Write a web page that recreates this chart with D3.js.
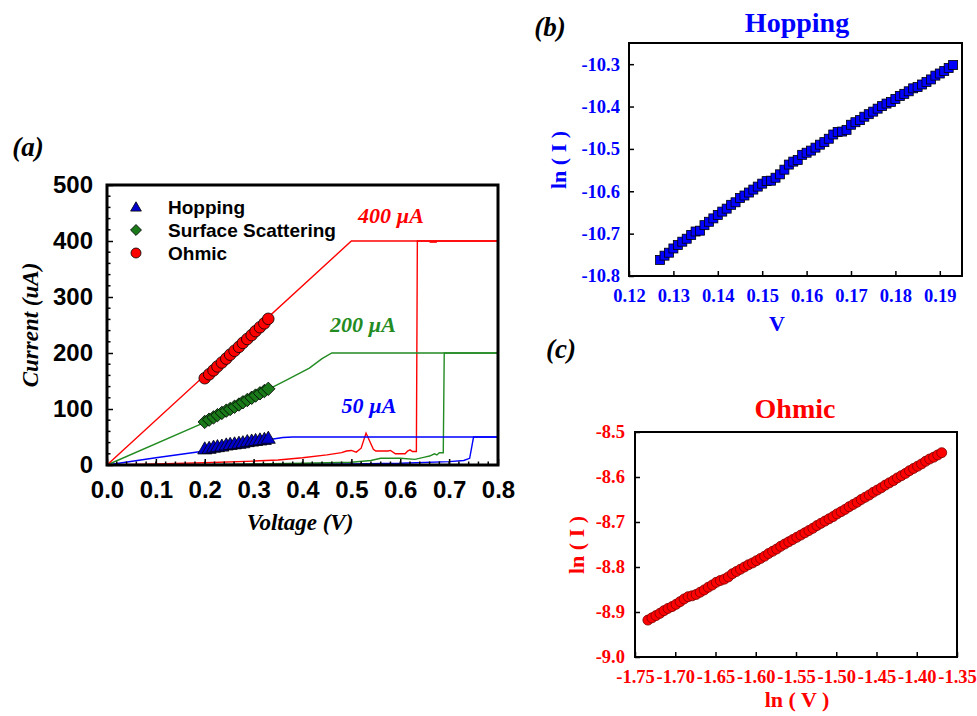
<!DOCTYPE html>
<html>
<head>
<meta charset="utf-8">
<script src="https://cdn.jsdelivr.net/npm/d3@7"></script>
<style>
  body { margin: 0; background: #fff; }
  svg { display: block; }
  .serif { font-family: "Liberation Serif", "Times New Roman", serif; font-weight: bold; }
  .sans { font-family: "Liberation Sans", Arial, sans-serif; font-weight: bold; }
</style>
</head>
<body>
<svg id="chart" width="977" height="716"></svg>
<script>
// ---------- Panel (a): I-V sweeps with compliance currents ----------
const ivTicksX = [0, 0.1, 0.2, 0.3, 0.4, 0.5, 0.6, 0.7, 0.8];
const ivTicksY = [0, 100, 200, 300, 400, 500];

// compliance curves [V, uA]
const set400 = [[0, 0], [0.50, 400], [0.80, 400]];
const reset400 = [[0, 0], [0.10, 2], [0.20, 4], [0.30, 7], [0.35, 9], [0.40, 13], [0.45, 18], [0.48, 22],
  [0.49, 25], [0.50, 26], [0.51, 23], [0.52, 30], [0.53, 57], [0.545, 28], [0.55, 25], [0.575, 25],
  [0.58, 26], [0.59, 20], [0.61, 20], [0.615, 25], [0.62, 27], [0.625, 24], [0.633, 24], [0.635, 400], [0.80, 400]];
const blip400 = [[0.66, 398], [0.675, 398]];
const set200 = [[0, 0], [0.20, 76], [0.33, 135], [0.37, 153], [0.414, 173], [0.44, 190], [0.46, 200], [0.80, 200]];
const reset200 = [[0, 0], [0.20, 1], [0.40, 3], [0.50, 5], [0.54, 8], [0.56, 12], [0.60, 12], [0.63, 10],
  [0.65, 14], [0.66, 16], [0.67, 20], [0.675, 18], [0.68, 22], [0.688, 22], [0.69, 200], [0.80, 200]];
const set50 = [[0, 0], [0.10, 13], [0.20, 25], [0.33, 45], [0.36, 49], [0.38, 50], [0.80, 50]];
const reset50 = [[0, 0], [0.30, 1], [0.50, 2], [0.60, 3], [0.70, 6], [0.73, 8], [0.742, 12], [0.75, 50], [0.80, 50]];

// fitted regions (same voltages for the three mechanisms)
const fitV = [0.200, 0.209, 0.218, 0.226, 0.235, 0.244, 0.252, 0.261, 0.270, 0.278, 0.287, 0.296, 0.304, 0.313, 0.322, 0.330];
const ohmicI = [155, 162, 169, 176, 183, 190, 197, 204, 211, 218, 225, 232, 239, 246, 253, 261];
const surfaceI = [77, 81, 85, 89, 93, 97, 100, 104, 108, 112, 116, 120, 124, 128, 132, 136];
const hoppingI = [27, 28, 30, 31, 32, 34, 35, 36, 37, 38, 40, 41, 42, 43, 44, 46];

const legendNames = ['Hopping', 'Surface Scattering', 'Ohmic'];

// ---------- Panel (b): Hopping, ln(I) vs V ----------
const hopTicksX = [0.12, 0.13, 0.14, 0.15, 0.16, 0.17, 0.18, 0.19];
const hopTicksY = [-10.8, -10.7, -10.6, -10.5, -10.4, -10.3];
const hopV = [0.127, 0.128, 0.129, 0.130, 0.131, 0.132, 0.133, 0.134, 0.135, 0.136, 0.137, 0.138, 0.139, 0.140,
  0.141, 0.142, 0.143, 0.144, 0.145, 0.146, 0.147, 0.148, 0.149, 0.150, 0.151, 0.152, 0.153, 0.154, 0.155,
  0.156, 0.157, 0.158, 0.159, 0.160, 0.161, 0.162, 0.163, 0.164, 0.165, 0.166, 0.167, 0.168, 0.169, 0.170,
  0.171, 0.172, 0.173, 0.174, 0.175, 0.176, 0.177, 0.178, 0.179, 0.180, 0.181, 0.182, 0.183, 0.184, 0.185,
  0.186, 0.187, 0.188, 0.189, 0.190, 0.191, 0.192, 0.193];
const hopLnI = [-10.762, -10.752, -10.745, -10.735, -10.727, -10.719, -10.712, -10.703, -10.695, -10.693,
  -10.680, -10.672, -10.664, -10.656, -10.648, -10.641, -10.632, -10.626, -10.616, -10.610, -10.603, -10.596,
  -10.589, -10.582, -10.576, -10.575, -10.568, -10.560, -10.549, -10.537, -10.530, -10.526, -10.514, -10.509,
  -10.504, -10.497, -10.490, -10.484, -10.476, -10.466, -10.460, -10.459, -10.455, -10.443, -10.437, -10.432,
  -10.424, -10.418, -10.412, -10.405, -10.399, -10.393, -10.389, -10.382, -10.375, -10.370, -10.364, -10.357,
  -10.354, -10.348, -10.342, -10.336, -10.327, -10.322, -10.316, -10.309, -10.302];

// ---------- Panel (c): Ohmic, ln(I) vs ln(V) ----------
const ohmTicksX = [-1.75, -1.70, -1.65, -1.60, -1.55, -1.50, -1.45, -1.40, -1.35];
const ohmTicksY = [-9.0, -8.9, -8.8, -8.7, -8.6, -8.5];
const ohmLnV = [-1.734, -1.729, -1.724, -1.719, -1.714, -1.709, -1.704, -1.699, -1.694, -1.689, -1.684, -1.679,
  -1.674, -1.669, -1.664, -1.659, -1.654, -1.649, -1.644, -1.639, -1.634, -1.629, -1.624, -1.619, -1.614,
  -1.609, -1.604, -1.599, -1.594, -1.589, -1.584, -1.579, -1.574, -1.569, -1.564, -1.559, -1.554, -1.549,
  -1.544, -1.539, -1.534, -1.529, -1.524, -1.519, -1.514, -1.509, -1.504, -1.499, -1.494, -1.489, -1.484,
  -1.479, -1.474, -1.469, -1.464, -1.459, -1.454, -1.449, -1.444, -1.439, -1.434, -1.429, -1.424, -1.419,
  -1.414, -1.409, -1.404, -1.399, -1.394, -1.389, -1.384, -1.379, -1.374, -1.369];
const ohmLnI = [-8.918, -8.913, -8.908, -8.903, -8.897, -8.892, -8.888, -8.883, -8.877, -8.871, -8.866, -8.864,
  -8.861, -8.856, -8.851, -8.845, -8.840, -8.834, -8.830, -8.827, -8.822, -8.815, -8.810, -8.805, -8.800,
  -8.795, -8.791, -8.786, -8.781, -8.776, -8.770, -8.765, -8.760, -8.754, -8.749, -8.744, -8.739, -8.734,
  -8.729, -8.724, -8.719, -8.714, -8.708, -8.703, -8.698, -8.693, -8.688, -8.682, -8.677, -8.672, -8.666,
  -8.661, -8.656, -8.650, -8.645, -8.640, -8.634, -8.629, -8.624, -8.618, -8.613, -8.608, -8.602, -8.597,
  -8.592, -8.586, -8.581, -8.576, -8.571, -8.565, -8.560, -8.556, -8.551, -8.546];

const RED = '#ff0000', GREEN = '#228b22', BLUE = '#0000ff';
const svg = d3.select('#chart');

// Draws a boxed frame with inward ticks
function drawFrame(x, y, opt) {
  const [x0, x1] = x.range();
  const [y0, y1] = y.range(); // y0 = bottom
  const g = svg.append('g');

  const xAxis = g.append('g')
    .attr('transform', `translate(0,${y0})`)
    .call(d3.axisBottom(x).tickValues(opt.xTicks).tickSize(-opt.tick).tickSizeOuter(0)
      .tickPadding(opt.xPad).tickFormat(opt.xFmt));
  const yAxis = g.append('g')
    .attr('transform', `translate(${x0},0)`)
    .call(d3.axisLeft(y).tickValues(opt.yTicks).tickSize(-opt.tick).tickSizeOuter(0)
      .tickPadding(opt.yPad).tickFormat(opt.yFmt));

  [xAxis, yAxis].forEach(a => {
    a.select('.domain').remove();
    a.selectAll('line').attr('stroke', '#000').attr('stroke-width', opt.tickW);
    a.selectAll('text')
      .attr('class', opt.fontClass)
      .attr('fill', opt.color)
      .style('font-size', opt.fontSize + 'px');
  });

  // minor ticks
  if (opt.xMinor) {
    g.append('g').selectAll('line').data(opt.xMinor).join('line')
      .attr('x1', d => x(d)).attr('x2', d => x(d))
      .attr('y1', y0).attr('y2', y0 - opt.minor)
      .attr('stroke', '#000').attr('stroke-width', opt.tickW);
  }
  if (opt.yMinor) {
    g.append('g').selectAll('line').data(opt.yMinor).join('line')
      .attr('x1', x0).attr('x2', x0 + opt.minor)
      .attr('y1', d => y(d)).attr('y2', d => y(d))
      .attr('stroke', '#000').attr('stroke-width', opt.tickW);
  }

  g.append('rect')
    .attr('x', x0).attr('y', y1)
    .attr('width', x1 - x0).attr('height', y0 - y1)
    .attr('fill', 'none').attr('stroke', '#000').attr('stroke-width', opt.frameW);
}

function addText(txt, x, y, cls, size, color, opts = {}) {
  const t = svg.append('text')
    .attr('class', cls)
    .attr('x', x).attr('y', y)
    .attr('fill', color)
    .attr('text-anchor', opts.anchor || 'middle')
    .style('font-size', size + 'px')
    .text(txt);
  if (opts.italic) t.style('font-style', 'italic');
  if (opts.rotate) t.attr('transform', `rotate(-90,${x},${y})`);
  return t;
}

// ================= Panel (a) =================
const xA = d3.scaleLinear().domain([0, 0.8]).range([107, 498]);
const yA = d3.scaleLinear().domain([0, 500]).range([465, 185]);

const xMinorA = [];
for (let v = 0.02; v < 0.8; v += 0.02) xMinorA.push(+v.toFixed(2));
const yMinorA = [];
for (let v = 20; v < 500; v += 20) if (v % 100) yMinorA.push(v);

const line = d3.line().x(d => xA(d[0])).y(d => yA(d[1]));
const curves = [
  [reset50, BLUE], [reset200, GREEN], [reset400, RED],
  [set50, BLUE], [set200, GREEN], [set400, RED], [blip400, RED]
];
svg.append('g').selectAll('path').data(curves).join('path')
  .attr('d', d => line(d[0]))
  .attr('fill', 'none')
  .attr('stroke', d => d[1])
  .attr('stroke-width', 1.4);

// fitted markers
const ptsOhmic = fitV.map((v, i) => [v, ohmicI[i]]);
const ptsSurf = fitV.map((v, i) => [v, surfaceI[i]]);
const ptsHop = fitV.map((v, i) => [v, hoppingI[i]]);

svg.append('g').selectAll('path').data(ptsHop).join('path')
  .attr('transform', d => `translate(${xA(d[0])},${yA(d[1])})`)
  .attr('d', d3.symbol(d3.symbolTriangle, 85))
  .attr('fill', '#0000cc').attr('stroke', '#000').attr('stroke-width', 0.8);
svg.append('g').selectAll('path').data(ptsSurf).join('path')
  .attr('transform', d => `translate(${xA(d[0])},${yA(d[1])}) rotate(45)`)
  .attr('d', d3.symbol(d3.symbolSquare, 90))
  .attr('fill', '#1a7a1a').attr('stroke', '#000').attr('stroke-width', 0.8);
svg.append('g').selectAll('circle').data(ptsOhmic).join('circle')
  .attr('cx', d => xA(d[0])).attr('cy', d => yA(d[1])).attr('r', 5.8)
  .attr('fill', RED).attr('stroke', '#000').attr('stroke-width', 0.8);

drawFrame(xA, yA, {
  xTicks: ivTicksX, yTicks: ivTicksY, tick: 6, minor: 3.5, tickW: 1.5, frameW: 3,
  xPad: 16, yPad: 14, xFmt: d3.format('.1f'), yFmt: d3.format('d'),
  xMinor: xMinorA, yMinor: yMinorA, fontClass: 'sans', fontSize: 24, color: '#000'
});

// legend
const legendY = [207, 230, 253];
svg.append('path').attr('transform', `translate(136,${legendY[0] + 1})`)
  .attr('d', d3.symbol(d3.symbolTriangle, 50))
  .attr('fill', '#0000cc').attr('stroke', '#000').attr('stroke-width', 0.8);
svg.append('path').attr('transform', `translate(136,${legendY[1]}) rotate(45)`)
  .attr('d', d3.symbol(d3.symbolSquare, 60))
  .attr('fill', '#1a7a1a').attr('stroke', '#000').attr('stroke-width', 0.8);
svg.append('circle').attr('cx', 136).attr('cy', legendY[2]).attr('r', 5)
  .attr('fill', RED).attr('stroke', '#000').attr('stroke-width', 0.8);
legendNames.forEach((n, i) => addText(n, 168, legendY[i] + 7, 'sans', 19, '#000', { anchor: 'start' }));

// compliance labels
addText('400 µA', 391, 223, 'serif', 22, RED, { italic: true });
addText('200 µA', 363, 332, 'serif', 22, GREEN, { italic: true });
addText('50 µA', 369, 413, 'serif', 22, BLUE, { italic: true });

addText('Current (uA)', 38, 325, 'serif', 23, '#000', { italic: true, rotate: true });
addText('Voltage (V)', 300, 530, 'serif', 23, '#000', { italic: true });
addText('(a)', 28, 156, 'serif', 27, '#000', { italic: true });

// ================= Panel (b) =================
const xB = d3.scaleLinear().domain([0.12, 0.195]).range([629, 962]);
const yB = d3.scaleLinear().domain([-10.8, -10.25]).range([276, 43]);

drawFrame(xB, yB, {
  xTicks: hopTicksX, yTicks: hopTicksY, tick: 5, tickW: 1.5, frameW: 2,
  xPad: 13, yPad: 9, xFmt: d3.format('.2f'), yFmt: d => d3.format('.1f')(d).replace('−', '-'),
  fontClass: 'serif', fontSize: 18.5, color: BLUE
});

const sq = 9;
svg.append('g').selectAll('rect').data(hopV.map((v, i) => [v, hopLnI[i]])).join('rect')
  .attr('x', d => xB(d[0]) - sq / 2).attr('y', d => yB(d[1]) - sq / 2)
  .attr('width', sq).attr('height', sq)
  .attr('fill', BLUE).attr('stroke', '#000').attr('stroke-width', 0.8);

addText('Hopping', 797, 32, 'serif', 28, BLUE);
addText('ln ( I )', 566, 160, 'serif', 22, BLUE, { rotate: true });
addText('V', 777, 331, 'serif', 22, BLUE);
addText('(b)', 550, 36, 'serif', 27, '#000', { italic: true });

// ================= Panel (c) =================
const xC = d3.scaleLinear().domain([-1.75, -1.35]).range([635, 957]);
const yC = d3.scaleLinear().domain([-9.0, -8.5]).range([657, 432]);

drawFrame(xC, yC, {
  xTicks: ohmTicksX, yTicks: ohmTicksY, tick: 5, tickW: 1.5, frameW: 2,
  xPad: 13, yPad: 10, xFmt: d => d3.format('.2f')(d).replace('−', '-'),
  yFmt: d => d3.format('.1f')(d).replace('−', '-'),
  fontClass: 'serif', fontSize: 18.5, color: RED
});

svg.append('g').selectAll('circle').data(ohmLnV.map((v, i) => [v, ohmLnI[i]])).join('circle')
  .attr('cx', d => xC(d[0])).attr('cy', d => yC(d[1])).attr('r', 5)
  .attr('fill', RED).attr('stroke', '#700').attr('stroke-width', 0.8);

addText('Ohmic', 795, 418, 'serif', 28, RED);
addText('ln ( I )', 584, 545, 'serif', 22, RED, { rotate: true });
addText('ln ( V )', 797, 707, 'serif', 22, RED);
addText('(c)', 561, 358, 'serif', 27, '#000', { italic: true });
</script>
</body>
</html>
